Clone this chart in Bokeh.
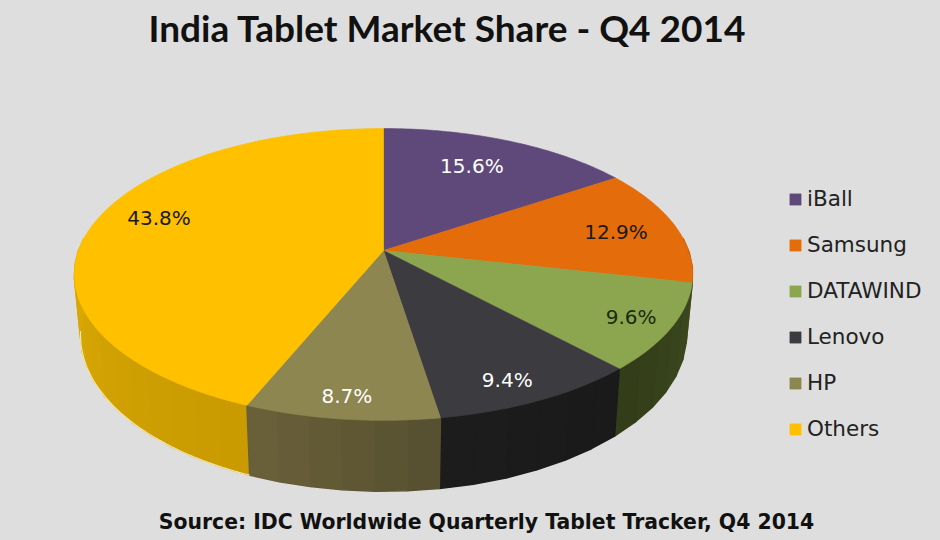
import math
from bokeh.plotting import figure
from bokeh.models import Range1d, Legend, LegendItem, Label
from bokeh.core.properties import value
from bokeh.embed import file_html
from bokeh.resources import INLINE

# ---- data ----
categories = ["iBall", "Samsung", "DATAWIND", "Lenovo", "HP", "Others"]
shares = [15.6, 12.9, 9.6, 9.4, 8.7, 43.8]
title_text = "India Tablet Market Share - Q4 2014"
source_text = "Source: IDC Worldwide Quarterly Tablet Tracker, Q4 2014"

# ---- styles ----
top_colors = ["#5F497A", "#E46C0A", "#8BA64F", "#3C3B40", "#8E8650", "#FFC000"]
side_from = ["#3A2C4A", "#A04A05", "#3D4A20", "#1A1A1A", "#565030", "#C89A00"]
side_to = ["#3A2C4A", "#A04A05", "#323C18", "#1C1C1C", "#6B6039", "#DCAA06"]
label_colors = ["#FFFFFF", "#1A1A1A", "#1A2A10", "#FFFFFF", "#FFFFFF", "#1A1A1A"]
label_radius = [0.73, 0.79, 0.87, 0.87, 0.885, 0.80]
label_nudge = [-2, 1, 0, 2, 0, 6]
BG = "#DEDEDE"

# ---- perspective disc geometry (image pixels) ----
CX, CY, RX, RY, K = 383, 250, 305, 142, 0.164
XS, DY, YS = 0.98, 59, 1.07


def project(theta_deg, r=1.0):
    t = math.radians(theta_deg)
    u, v = r * math.sin(t), -r * math.cos(t)
    w = 1 - K * v
    return CX + RX * u / w, CY + RY * v / w


def lower(x, y):
    return CX + (x - CX) * XS, CY + DY + (y - CY) * YS


def mix(a, b, f):
    ca = [int(a[i:i + 2], 16) for i in (1, 3, 5)]
    cb = [int(b[i:i + 2], 16) for i in (1, 3, 5)]
    return "#%02X%02X%02X" % tuple(round(p + (q - p) * f) for p, q in zip(ca, cb))


p = figure(width=940, height=540, output_backend="svg", toolbar_location=None,
           x_range=Range1d(0, 940), y_range=Range1d(540, 0),
           x_axis_location=None, y_axis_location=None, min_border=0,
           background_fill_color=BG, border_fill_color=BG, outline_line_color=None)
p.grid.visible = False

# slice boundaries from the values
bounds = [0.0]
for s in shares:
    bounds.append(bounds[-1] + s * 3.6)

# outer wall of the disc: strips, front half only, back to front
strips_x, strips_y, strips_c = [], [], []
STEP = 5
for i in sorted(range(len(shares)), key=lambda j: abs((bounds[j] + bounds[j + 1]) / 2 - 180), reverse=True):
    a0, a1 = max(bounds[i], 85), min(bounds[i + 1], 275)
    if a1 <= a0:
        continue
    n = max(1, int((a1 - a0) / STEP))
    for j in range(n):
        t0 = a0 + (a1 - a0) * j / n
        t1 = a0 + (a1 - a0) * (j + 1) / n
        x0, y0 = project(t0)
        x1, y1 = project(t1)
        bx0, by0 = lower(x0, y0)
        bx1, by1 = lower(x1, y1)
        strips_x.append([x0, x1, bx1, bx0])
        strips_y.append([y0, y1, by1, by0])
        strips_c.append(mix(side_from[i], side_to[i], (j + 0.5) / n))
# a wide same-colour outline hides the seams between strips
p.patches(strips_x, strips_y, fill_color=strips_c, line_color=strips_c, line_width=1.5)

# pale rim under the Others wall
rim = [lower(*project(bounds[5] + (262 - bounds[5]) * j / 60)) for j in range(61)]
p.line([q[0] for q in rim], [q[1] for q in rim], line_color="#FFF6C8", line_width=1.2, line_alpha=0.8)

# top face
items = []
for i, name in enumerate(categories):
    a0, a1 = bounds[i], bounds[i + 1]
    n = max(2, int((a1 - a0) / 1.0))
    pts = [project(a0 + (a1 - a0) * j / n) for j in range(n + 1)]
    xs = [CX] + [q[0] for q in pts]
    ys = [CY] + [q[1] for q in pts]
    r = p.patch(xs, ys, fill_color=top_colors[i], line_color=top_colors[i], line_width=0.6)
    items.append(LegendItem(label=name, renderers=[r]))

# percentage labels
lx, ly, lt = [], [], []
for i, s in enumerate(shares):
    x, y = project((bounds[i] + bounds[i + 1]) / 2 + label_nudge[i], label_radius[i])
    lx.append(x); ly.append(y); lt.append(f"{s:.1f}%")
p.text(lx, ly, text=lt, text_color=label_colors, text_font=value("DejaVu Sans"),
       text_font_size="20px", text_align="center", text_baseline="middle")

p.add_layout(Label(x=447, y=27, text=title_text, text_font="Lato", text_font_size="37px",
                   text_font_style="bold", text_color="#111111", text_align="center",
                   text_baseline="middle"))
p.add_layout(Label(x=486, y=521, text=source_text, text_font="DejaVu Sans", text_font_size="20.4px",
                   text_font_style="bold", text_color="#111111", text_align="center",
                   text_baseline="middle"))

legend = Legend(items=items, location=(788, 99), orientation="vertical",
                background_fill_alpha=0, border_line_color=None, padding=0, margin=0,
                spacing=21, glyph_width=14, glyph_height=14, label_standoff=5,
                label_text_font="DejaVu Sans", label_text_font_size="21.5px",
                label_text_color="#222222", label_height=25)
p.add_layout(legend, "center")

style = f"<style>html,body{{background:{BG};margin:0;overflow:hidden;}}</style></head>"
html = file_html(p, INLINE).replace("</head>", style, 1)
open("out.html", "w").write(html)
